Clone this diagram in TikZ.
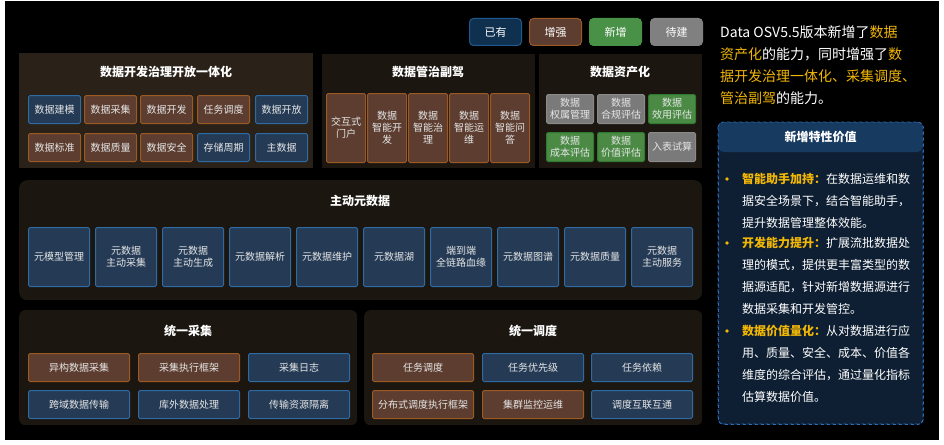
\documentclass[tikz,border=0pt]{standalone}
\usepackage{fontspec}
\setmainfont{Noto Sans CJK SC}
\definecolor{panelA}{HTML}{2A2118}
\definecolor{panelB}{HTML}{1C1610}
\definecolor{bluefill}{HTML}{243A55}
\definecolor{blueborder}{HTML}{2E6AA3}
\definecolor{brownfill}{HTML}{5C3D30}
\definecolor{brownborder}{HTML}{9C5A22}
\definecolor{grayfill}{HTML}{7A7A7A}
\definecolor{grayborder}{HTML}{8A8A8A}
\definecolor{greenfill}{HTML}{4A8A45}
\definecolor{greenborder}{HTML}{2F7A2F}
\definecolor{boxtext}{HTML}{E6E6E6}
\definecolor{gold}{HTML}{F2B705}
\definecolor{infohead}{HTML}{173A60}
\definecolor{infobody}{HTML}{0E1F33}
\definecolor{infoborder}{HTML}{2E6EB5}
\definecolor{legblue}{HTML}{10304F}
\definecolor{legblueb}{HTML}{1F5A8F}
\definecolor{leggreen}{HTML}{4A9148}
\definecolor{leggray}{HTML}{808080}
\begin{document}
\begin{tikzpicture}[x=1pt,y=-1pt,
  panelbox/.style={anchor=north west, inner sep=0pt, draw=none},
  ptitle/.style={text=white, font=\fontsize{12}{14}\selectfont\bfseries},
  cell/.style={anchor=north west, inner sep=0pt, line width=1pt, rounded corners=1.5pt,
    text=boxtext, font=\fontsize{10}{12}\selectfont, align=center},
  bbl/.style={cell, fill=bluefill, draw=blueborder},
  brw/.style={cell, fill=brownfill, draw=brownborder},
  gry/.style={cell, fill=grayfill, draw=grayborder},
  grn/.style={cell, fill=greenfill, draw=greenborder},
  legend/.style={anchor=north west, inner sep=0pt, line width=1pt, rounded corners=4pt,
    minimum width=52, minimum height=27, text=white, font=\fontsize{11}{13}\selectfont},
  bodytext/.style={anchor=west, inner sep=0pt, align=left, text=white,
    font=\fontsize{12}{21.8}\selectfont},
  hl/.style={text=gold}
]
\useasboundingbox (0,0) rectangle (944,444);
\fill[white] (0,0) rectangle (944,444);
\fill[black] (5,1) rectangle (939,440);

% legend
\node[legend, fill=legblue, draw=legblueb] (lg1) at (469,18) {已有};
\node[legend, fill=brownfill, draw=brownborder] (lg2) at (529,18) {增强};
\node[legend, fill=leggreen, draw=leggreen] (lg3) at (589,18) {新增};
\node[legend, fill=leggray, draw=leggray] (lg4) at (650,18) {待建};

% panel 1
\node[panelbox, fill=panelA, minimum width=294, minimum height=115] (p1) at (19,53) {};
\node[ptitle] (t1) at (166,72) {数据开发治理开放一体化};
\begin{scope}[every node/.append style={minimum width=52, minimum height=28}]
\node[bbl] (a1) at (28,95) {数据建模};
\node[brw] (a2) at (84,95) {数据采集};
\node[brw] (a3) at (140,95) {数据开发};
\node[brw] (a4) at (197,95) {任务调度};
\node[bbl] (a5) at (255,95) {数据开放};
\node[brw] (a6) at (28,133) {数据标准};
\node[brw] (a7) at (84,133) {数据质量};
\node[brw] (a8) at (140,133) {数据安全};
\node[bbl] (a9) at (197,133) {存储周期};
\node[bbl] (a10) at (255,133) {主数据};
\end{scope}

% panel 2
\node[panelbox, fill=panelB, minimum width=213, minimum height=114] (p2) at (322,54) {};
\node[ptitle] (t2) at (428,72) {数据管治副驾};
\begin{scope}[every node/.append style={minimum width=39, minimum height=69, font=\fontsize{10}{12.5}\selectfont}]
\node[brw] (b1) at (326,93) {交互式\\门户};
\node[brw] (b2) at (367,93) {数据\\智能开\\发};
\node[brw] (b3) at (408,93) {数据\\智能治\\理};
\node[brw] (b4) at (449,93) {数据\\智能运\\维};
\node[brw] (b5) at (490,93) {数据\\智能问\\答};
\end{scope}

% panel 3
\node[panelbox, fill=panelB, minimum width=163, minimum height=114] (p3) at (539,54) {};
\node[ptitle] (t3) at (620,72) {数据资产化};
\begin{scope}[every node/.append style={minimum width=47, minimum height=29, font=\fontsize{10}{15}\selectfont}]
\node[gry] (c1) at (546,94) {数据\\权属管理};
\node[gry] (c2) at (597,94) {数据\\合规评估};
\node[grn] (c3) at (648,94) {数据\\效用评估};
\node[grn] (c4) at (546,132) {数据\\成本评估};
\node[grn] (c5) at (597,132) {数据\\价值评估};
\node[gry] (c6) at (648,132) {入表试算};
\end{scope}

% panel 4
\node[panelbox, fill=panelB, rounded corners=8pt, minimum width=683, minimum height=120] (p4) at (19,180) {};
\node[ptitle] (t4) at (360,201) {主动元数据};
\begin{scope}[every node/.append style={minimum width=61, minimum height=59, font=\fontsize{10}{17}\selectfont}]
\node[bbl] (d1) at (28,227) {元模型管理};
\node[bbl] (d2) at (95,227) {元数据\\主动采集};
\node[bbl] (d3) at (162,227) {元数据\\主动生成};
\node[bbl] (d4) at (229,227) {元数据解析};
\node[bbl] (d5) at (296,227) {元数据维护};
\node[bbl] (d6) at (363,227) {元数据湖};
\node[bbl] (d7) at (430,227) {端到端\\全链路血缘};
\node[bbl] (d8) at (497,227) {元数据图谱};
\node[bbl] (d9) at (564,227) {元数据质量};
\node[bbl] (d10) at (631,227) {元数据\\主动服务};
\end{scope}

% panel 5
\node[panelbox, fill=panelB, rounded corners=6pt, minimum width=338, minimum height=115] (p5) at (19,310) {};
\node[ptitle] (t5) at (188,331) {统一采集};
\begin{scope}[every node/.append style={minimum width=101, minimum height=28}]
\node[brw] (e1) at (28,353) {异构数据采集};
\node[brw] (e2) at (138,353) {采集执行框架};
\node[bbl] (e3) at (248,353) {采集日志};
\node[bbl] (e4) at (28,390) {跨域数据传输};
\node[bbl] (e5) at (138,390) {库外数据处理};
\node[bbl] (e6) at (248,390) {传输资源隔离};
\end{scope}

% panel 6
\node[panelbox, fill=panelB, rounded corners=6pt, minimum width=338, minimum height=115] (p6) at (364,310) {};
\node[ptitle] (t6) at (533,331) {统一调度};
\begin{scope}[every node/.append style={minimum width=101, minimum height=28}]
\node[brw] (f1) at (372,353) {任务调度};
\node[bbl] (f2) at (482,353) {任务优先级};
\node[bbl] (f3) at (591,353) {任务依赖};
\node[brw] (f4) at (372,390) {分布式调度执行框架};
\node[brw] (f5) at (482,390) {集群监控运维};
\node[bbl] (f6) at (591,390) {调度互联互通};
\end{scope}

% right intro text
\node[anchor=west, inner sep=0pt, align=left, text=white, font=\fontsize{14}{22}\selectfont] (intro) at (720,65)
 {Data OSV5.5版本新增了\textcolor{gold}{数据}\\
  \textcolor{gold}{资产化}的能力，同时增强了\textcolor{gold}{数}\\
  \textcolor{gold}{据开发治理一体化、采集调度、}\\
  \textcolor{gold}{管治副驾}的能力。};

% info box
\node[panelbox, fill=infobody, draw=infoborder, dashed, line width=0.8pt, rounded corners=5pt, minimum width=205, minimum height=302] (info) at (718,122) {};
\fill[infohead, rounded corners=5pt] (718.4,122.4) -- (922.6,122.4) -- (922.6,152) -- (718.4,152) -- cycle;
\draw[infoborder, dashed, line width=0.8pt, rounded corners=5pt] (718,122) rectangle (923,424);
\node[text=white, font=\fontsize{12}{14}\selectfont\bfseries] (ihead) at (820.5,137) {新增特性价值};

\fill[gold] (727,179) circle (1.8);
\fill[gold] (727,243) circle (1.8);
\fill[gold] (727,331) circle (1.8);
\node[bodytext] (bt1) at (742,201) {{\bfseries\color{gold}智能助手加持：}在数据运维和数\\据安全场景下，结合智能助手，\\提升数据管理整体效能。};
\node[bodytext] (bt2) at (742,275.7) {{\bfseries\color{gold}开发能力提升：}扩展流批数据处\\理的模式，提供更丰富类型的数\\据源适配，针对新增数据源进行\\数据采集和开发管控。};
\node[bodytext] (bt3) at (742,363.7) {{\bfseries\color{gold}数据价值量化：}从对数据进行应\\用、质量、安全、成本、价值各\\维度的综合评估，通过量化指标\\估算数据价值。};
\end{tikzpicture}
\end{document}
